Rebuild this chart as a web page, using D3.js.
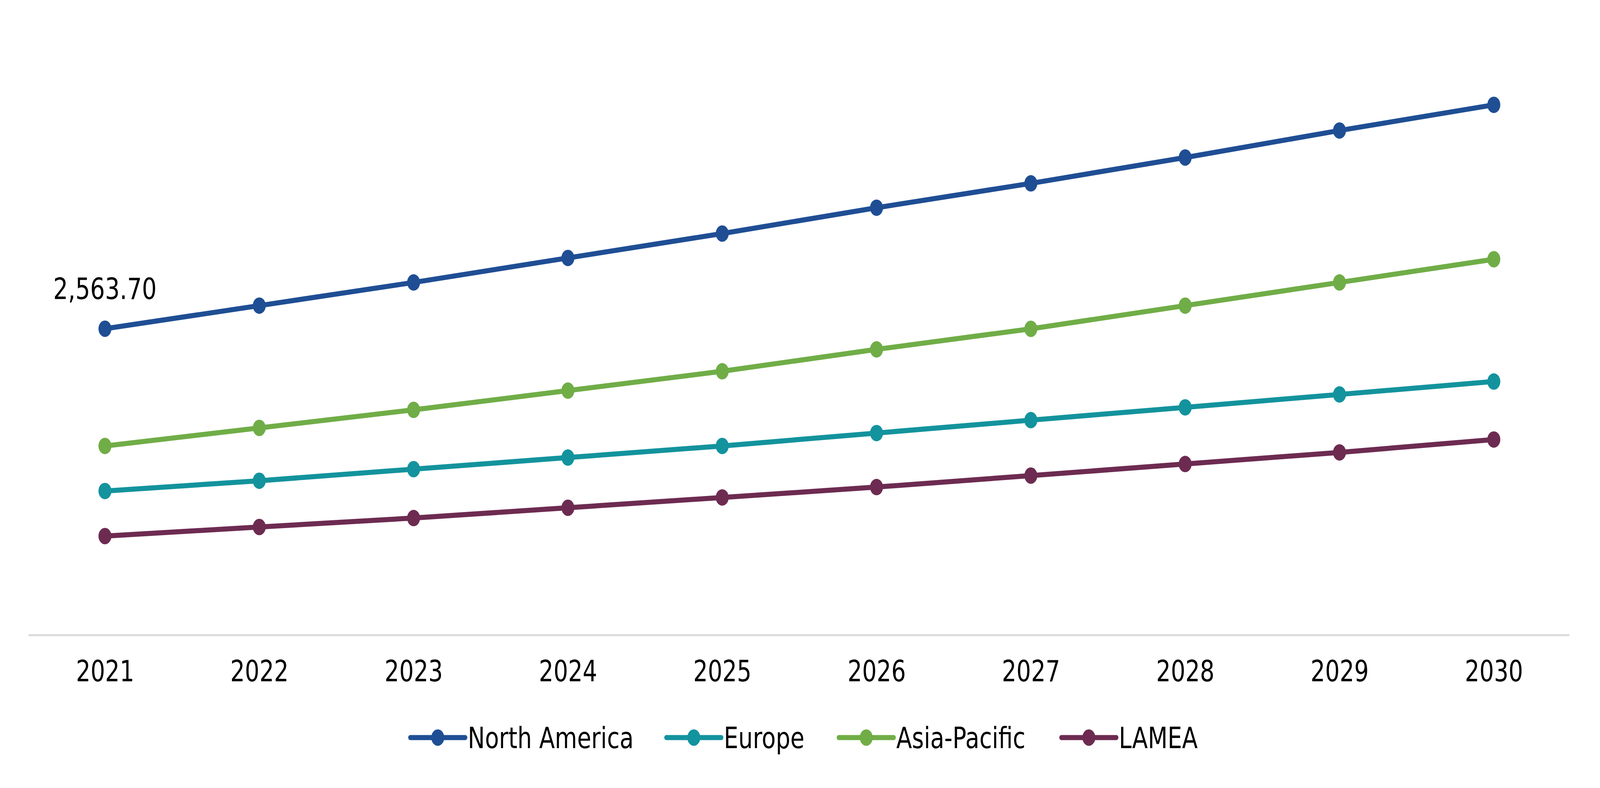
<!DOCTYPE html>
<html>
<head>
<meta charset="utf-8">
<script src="https://cdn.jsdelivr.net/npm/d3@7"></script>
<style>
    html, body { margin: 0; background: #fff; overflow: hidden; }
    svg { display: block; font-family: "DejaVu Sans", Verdana, sans-serif; }
</style>
</head>
<body>
<div id="chart"></div>
<script>
// Data
var years = ["2021", "2022", "2023", "2024", "2025", "2026", "2027", "2028", "2029", "2030"];
var seriesNames = ["North America", "Europe", "Asia-Pacific", "LAMEA"];
var seriesColors = ["#1F4E94", "#13939D", "#70AD47", "#6D2B51"];
var northAmerica = [2563.70, 2757, 2951, 3156, 3360, 3576, 3780, 3996, 4222, 4437];
var europe = [1206, 1292, 1389, 1486, 1583, 1691, 1799, 1906, 2014, 2122];
var asiaPacific = [1583, 1734, 1885, 2046, 2208, 2391, 2563, 2757, 2951, 3145];
var lamea = [829, 905, 980, 1066, 1152, 1239, 1335, 1432, 1529, 1637];
var seriesValues = [northAmerica, europe, asiaPacific, lamea];
// draw order: blue on top of the others
var drawOrder = [3, 1, 2, 0];

// chart is laid out on a 5168x2016 canvas and stretched to the window
var width = 5168, height = 2016;

var svg = d3.select("#chart").append("svg")
    .attr("viewBox", "0 0 " + width + " " + height)
    .attr("preserveAspectRatio", "none")
    .style("width", "100vw")
    .style("height", "100vh");

var x = d3.scalePoint().domain(years).range([339, 4825]);
var y = d3.scaleLinear().domain([0, 5000]).range([1625, 96]);

// Category axis: light grey baseline, no ticks
var xAxis = svg.append("g").attr("transform", "translate(0," + y(0) + ")")
    .call(d3.axisBottom(x).tickSize(0).tickPadding(0));
xAxis.select(".domain").remove();
xAxis.append("line")
    .attr("x1", 92).attr("x2", 5069)
    .attr("stroke", "#d9d9d9").attr("stroke-width", 5);
xAxis.selectAll(".tick text")
    .attr("y", 118).attr("dy", 0)
    .attr("font-size", 74).attr("fill", "#000")
    .attr("font-family", "DejaVu Sans, Verdana, sans-serif");

var line = d3.line()
    .x(function(d, i) { return x(years[i]); })
    .y(function(d) { return y(d); });

drawOrder.forEach(function(s) {
    var g = svg.append("g").attr("class", "series");
    g.append("path")
        .datum(seriesValues[s])
        .attr("d", line)
        .attr("fill", "none")
        .attr("stroke", seriesColors[s])
        .attr("stroke-width", 13)
        .attr("stroke-linejoin", "round");
    g.selectAll("circle")
        .data(seriesValues[s])
        .enter().append("circle")
        .attr("cx", function(d, i) { return x(years[i]); })
        .attr("cy", function(d) { return y(d); })
        .attr("r", 21)
        .attr("fill", seriesColors[s]);
});

// Data label on the first North America point
svg.append("text")
    .attr("x", x(years[0]))
    .attr("y", y(northAmerica[0]) - 76)
    .attr("text-anchor", "middle")
    .attr("font-size", 75)
    .attr("fill", "#000")
    .text(d3.format(",.2f")(northAmerica[0]));

// Legend
var legendX = [1325, 2152, 2709, 3428];
var legendY = 1887;
var legend = svg.append("g").attr("class", "legend");
seriesNames.forEach(function(name, i) {
    var item = legend.append("g").attr("transform", "translate(" + legendX[i] + "," + legendY + ")");
    item.append("line")
        .attr("x1", 0).attr("x2", 178)
        .attr("stroke", seriesColors[i]).attr("stroke-width", 13)
        .attr("stroke-linecap", "round");
    item.append("circle")
        .attr("cx", 89).attr("r", 21)
        .attr("fill", seriesColors[i]);
    item.append("text")
        .attr("x", 186).attr("y", 27)
        .attr("font-size", 74).attr("fill", "#000")
        .text(name);
});
</script>
</body>
</html>
